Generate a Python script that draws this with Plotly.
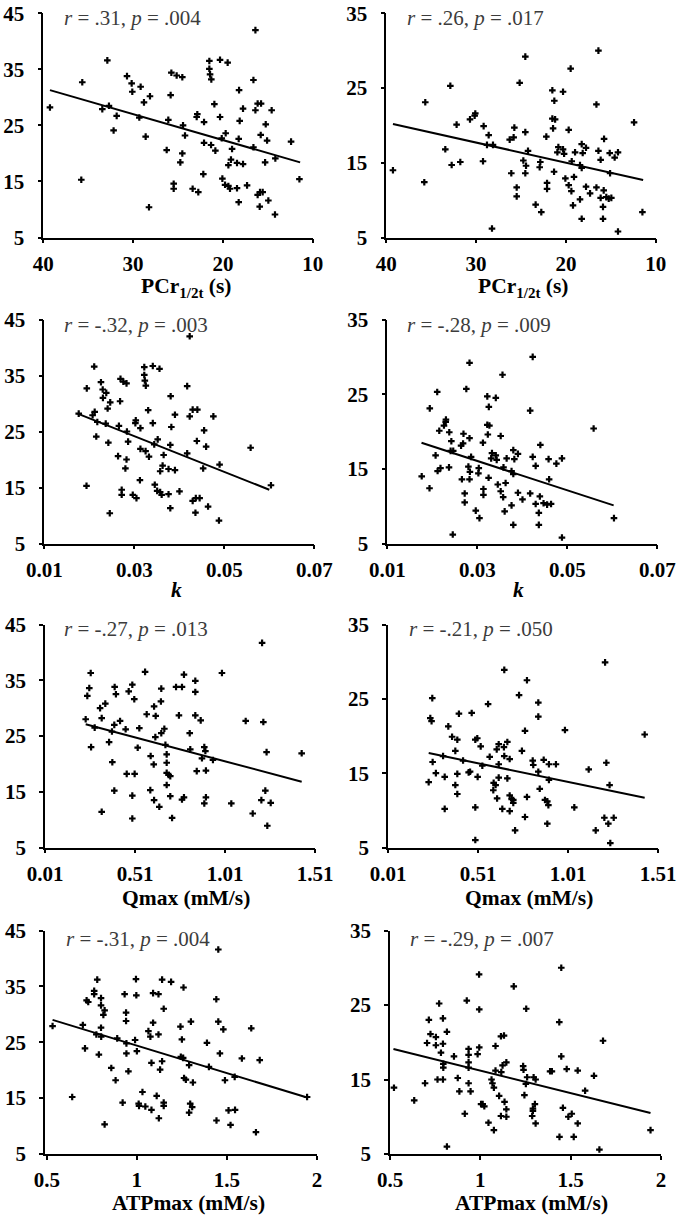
import plotly.graph_objects as go

# ---------------- data ----------------
# Row 1: PCr1/2t (s)
pcr_a = [39.26, 35.66, 35.77, 32.87, 33.43, 32.69, 32.17, 31.83, 30.68, 30.16,
         30.09, 29.16, 28.79, 28.12, 29.31, 28.6, 28.23, 26.26, 26.08, 25.82,
         25.74, 25.15, 24.52, 25.48, 25.48, 24.74, 24.52, 24.44, 24.22, 23.37,
         22.74, 22.85, 22.92, 22.18, 22.1, 22.1, 21.51, 21.51, 21.43, 21.29,
         21.32, 20.95, 20.84, 20.32, 20.32, 20.13, 20.06, 19.76, 19.47, 19.69,
         19.39, 19.21, 19.39, 18.98, 19.1, 18.43, 18.43, 18.2, 18.13, 18.24,
         18.24, 17.76, 17.76, 17.31, 16.6, 16.6, 16.38, 16.38, 16.13, 15.75,
         16.13, 15.87, 15.57, 15.9, 15.79, 15.23, 15.08, 15.3, 14.94, 14.57,
         14.2, 14.16, 12.41, 11.48]
y_left_a = [28.2, 32.7, 15.3, 36.6, 27.9, 28.5, 24.1, 26.7, 33.8, 32.5,
            31.0, 31.9, 29.1, 30.2, 26.4, 23.0, 10.4, 20.6, 26.0, 30.4,
            34.4, 33.9, 33.6, 14.6, 13.7, 18.4, 20.0, 25.0, 23.2, 13.7,
            13.1, 27.0, 26.5, 16.3, 21.9, 25.6, 36.5, 35.1, 34.1, 33.2,
            21.5, 28.8, 20.5, 36.7, 26.5, 22.7, 15.5, 14.4, 36.2, 23.6,
            14.2, 13.7, 17.9, 20.8, 18.9, 18.3, 13.8, 31.3, 25.8, 22.6,
            11.3, 28.0, 18.1, 14.3, 21.1, 33.1, 42.0, 27.7, 28.9, 28.9,
            12.6, 13.1, 13.1, 10.5, 23.3, 25.2, 22.3, 18.4, 11.6, 27.7,
            9.1, 19.1, 22.1, 15.4]

pcr_b = [39.26, 35.66, 35.77, 32.87, 33.43, 32.72, 32.17, 31.76, 30.68, 30.16,
         30.09, 29.16, 29.23, 28.79, 28.6, 28.12, 28.23, 26.08, 26.26, 25.82,
         25.74, 25.15, 24.52, 25.48, 25.48, 24.74, 24.52, 24.44, 24.52, 24.22,
         23.37, 22.74, 22.85, 22.92, 22.18, 22.1, 22.1, 21.51, 21.51, 21.43,
         21.29, 21.32, 21.2, 20.95, 20.84, 20.32, 20.32, 20.2, 20.06, 19.47,
         19.69, 19.69, 19.39, 19.35, 19.21, 18.98, 19.1, 18.43, 18.43, 18.24,
         18.13, 18.24, 18.24, 17.76, 17.76, 17.31, 16.6, 16.38, 16.38, 16.13,
         16.13, 16.6, 15.87, 15.87, 15.79, 15.75, 15.5, 15.23, 14.94, 15.08,
         15.12, 14.57, 14.2, 14.2, 12.41, 11.48]
y_right_b = [14.0, 23.1, 12.4, 25.3, 16.8, 14.7, 20.1, 15.1, 20.8, 21.3,
             21.6, 19.9, 15.2, 17.4, 18.7, 17.4, 6.2, 13.6, 18.1, 18.4,
             19.7, 25.7, 29.2, 11.7, 10.5, 15.3, 19.1, 14.6, 13.6, 16.6,
             9.4, 8.4, 15.1, 14.4, 18.5, 12.3, 11.5, 24.7, 20.9, 19.6,
             23.3, 13.8, 20.8, 16.4, 17.1, 24.5, 16.8, 16.2, 12.9, 27.6,
             19.4, 12.0, 11.2, 15.2, 9.3, 16.4, 13.1, 10.1, 14.7, 17.5,
             16.3, 7.5, 14.3, 17.0, 11.8, 10.9, 22.8, 30.0, 16.6, 15.4,
             10.3, 11.7, 9.1, 7.5, 11.3, 18.2, 10.4, 10.2, 10.3, 13.6,
             16.3, 15.7, 16.4, 5.8, 20.4, 8.4]

# Row 2: k
k_a = [0.01765, 0.01944, 0.01938, 0.02109, 0.02073, 0.02120, 0.02155, 0.02178, 0.02259, 0.02298,
       0.02303, 0.02377, 0.02407, 0.02465, 0.02365, 0.02423, 0.02455, 0.02639, 0.02658, 0.02684,
       0.02693, 0.02756, 0.02827, 0.02720, 0.02720, 0.02802, 0.02827, 0.02836, 0.02862, 0.02966,
       0.03048, 0.03033, 0.03024, 0.03125, 0.03136, 0.03136, 0.03222, 0.03222, 0.03234, 0.03256,
       0.03251, 0.03308, 0.03326, 0.03411, 0.03411, 0.03443, 0.03455, 0.03508, 0.03560, 0.03520,
       0.03575, 0.03608, 0.03575, 0.03652, 0.03629, 0.03761, 0.03761, 0.03808, 0.03823, 0.03800,
       0.03800, 0.03903, 0.03903, 0.04004, 0.04175, 0.04175, 0.04231, 0.04231, 0.04297, 0.04401,
       0.04297, 0.04367, 0.04452, 0.04359, 0.04390, 0.04551, 0.04596, 0.04530, 0.04639, 0.04757,
       0.04881, 0.04895, 0.05585, 0.06037]
k_b = [0.01765, 0.01944, 0.01938, 0.02109, 0.02073, 0.02118, 0.02155, 0.02182, 0.02259, 0.02298,
       0.02303, 0.02377, 0.02371, 0.02407, 0.02423, 0.02465, 0.02455, 0.02658, 0.02639, 0.02684,
       0.02693, 0.02756, 0.02827, 0.02720, 0.02720, 0.02802, 0.02827, 0.02836, 0.02827, 0.02862,
       0.02966, 0.03048, 0.03033, 0.03024, 0.03125, 0.03136, 0.03136, 0.03222, 0.03222, 0.03234,
       0.03256, 0.03251, 0.03269, 0.03308, 0.03326, 0.03411, 0.03411, 0.03431, 0.03455, 0.03560,
       0.03520, 0.03520, 0.03575, 0.03582, 0.03608, 0.03652, 0.03629, 0.03761, 0.03761, 0.03800,
       0.03823, 0.03800, 0.03800, 0.03903, 0.03903, 0.04004, 0.04175, 0.04231, 0.04231, 0.04297,
       0.04297, 0.04175, 0.04367, 0.04367, 0.04390, 0.04401, 0.04472, 0.04551, 0.04639, 0.04596,
       0.04584, 0.04757, 0.04881, 0.04881, 0.05585, 0.06037]

# Row 3: Qmax (mM/s)
qmax_l = [0.236, 0.245, 0.256, 0.264, 0.286, 0.266, 0.316, 0.325, 0.345, 0.325,
          0.366, 0.382, 0.384, 0.395, 0.397, 0.404, 0.395, 0.427, 0.458, 0.464,
          0.475, 0.495, 0.506, 0.508, 0.495, 0.495, 0.525, 0.534, 0.566, 0.575,
          0.597, 0.595, 0.614, 0.616, 0.625, 0.616, 0.623, 0.645, 0.654, 0.656,
          0.656, 0.673, 0.679, 0.686, 0.686, 0.686, 0.697, 0.706, 0.686, 0.706,
          0.716, 0.738, 0.754, 0.771, 0.782, 0.771, 0.782, 0.814, 0.817, 0.845,
          0.845, 0.845, 0.853, 0.875, 0.882, 0.895, 0.901, 0.904, 0.904, 0.895,
          0.943, 0.993, 1.045, 1.125, 1.164, 1.216, 1.223, 1.212, 1.234, 1.241,
          1.264, 1.245, 1.436]
y_left_q = [28.0, 32.2, 33.6, 36.3, 26.5, 23.0, 30.0, 28.2, 30.8, 11.4,
            23.9, 25.8, 20.3, 27.0, 33.8, 32.5, 15.2, 27.7, 26.2, 18.2,
            33.0, 34.2, 31.6, 18.2, 14.3, 10.2, 22.9, 26.4, 36.5, 28.9,
            21.4, 15.3, 19.9, 30.3, 28.6, 13.5, 24.8, 12.3, 31.2, 33.5,
            25.5, 26.3, 23.4, 21.7, 20.2, 18.4, 18.0, 17.8, 16.2, 14.2,
            10.3, 33.8, 28.7, 33.8, 36.0, 13.6, 14.0, 25.5, 22.6, 34.9,
            32.9, 28.7, 18.7, 27.8, 21.0, 23.0, 22.3, 18.8, 14.0, 12.9,
            20.7, 36.3, 12.9, 27.7, 11.1, 41.7, 27.5, 13.5, 15.2, 22.1,
            13.0, 8.9, 21.9]

qmax_r = [0.236, 0.245, 0.252, 0.256, 0.258, 0.276, 0.316, 0.325, 0.325, 0.345,
          0.366, 0.384, 0.384, 0.395, 0.395, 0.395, 0.404, 0.427, 0.458, 0.466,
          0.475, 0.495, 0.506, 0.508, 0.495, 0.495, 0.525, 0.534, 0.566, 0.575,
          0.597, 0.595, 0.608, 0.614, 0.616, 0.625, 0.625, 0.625, 0.645, 0.654,
          0.656, 0.656, 0.673, 0.673, 0.686, 0.686, 0.686, 0.697, 0.706, 0.706,
          0.716, 0.738, 0.754, 0.771, 0.782, 0.771, 0.782, 0.814, 0.817, 0.845,
          0.845, 0.845, 0.853, 0.875, 0.882, 0.895, 0.901, 0.904, 0.904, 0.895,
          0.943, 0.993, 1.045, 1.125, 1.164, 1.216, 1.223, 1.212, 1.234, 1.241,
          1.264, 1.245, 1.436]
y_right_q = [13.8, 22.4, 22.0, 25.1, 16.5, 15.0, 17.3, 14.5, 10.2, 21.3,
             19.9, 18.0, 13.4, 19.5, 14.9, 12.2, 23.0, 16.7, 15.1, 15.2,
             23.1, 19.5, 19.7, 14.5, 10.4, 6.0, 18.6, 16.0, 24.3, 17.2,
             13.7, 12.7, 13.4, 18.2, 11.6, 18.9, 16.2, 14.4, 10.2, 18.5,
             28.9, 17.3, 19.2, 14.3, 16.9, 12.0, 9.9, 11.5, 11.4, 11.0,
             7.3, 25.5, 18.0, 20.7, 27.5, 9.1, 11.8, 16.7, 16.1, 24.5,
             22.6, 15.2, 12.9, 16.8, 11.4, 11.2, 10.7, 16.2, 14.1, 8.2,
             16.2, 20.8, 10.4, 15.5, 7.3, 29.9, 16.4, 9.0, 8.2, 13.4,
             9.0, 5.6, 20.2]

# Row 4: ATPmax (mM/s)
atp_l = [0.532, 0.641, 0.700, 0.712, 0.721, 0.730, 0.763, 0.763, 0.775, 0.780,
         0.789, 0.801, 0.801, 0.801, 0.802, 0.814, 0.821, 0.821, 0.858, 0.882,
         0.891, 0.921, 0.932, 0.940, 0.940, 0.942, 0.942, 0.953, 0.995, 0.997,
         0.990, 1.000, 1.010, 1.012, 1.031, 1.047, 1.081, 1.064, 1.075, 1.081,
         1.090, 1.090, 1.110, 1.120, 1.120, 1.129, 1.122, 1.140, 1.140, 1.149,
         1.149, 1.149, 1.190, 1.242, 1.244, 1.257, 1.250, 1.259, 1.262, 1.272,
         1.290, 1.290, 1.296, 1.300, 1.307, 1.311, 1.389, 1.400, 1.441, 1.442,
         1.452, 1.452, 1.461, 1.480, 1.489, 1.509, 1.520, 1.543, 1.545, 1.583,
         1.635, 1.661, 1.682, 1.945]
y_left_atp = [27.9, 15.2, 28.1, 23.9, 32.5, 32.2, 34.2, 33.6, 26.4, 36.2,
              22.8, 32.9, 31.6, 27.6, 26.0, 29.9, 30.7, 10.3, 20.4, 18.2,
              25.7, 14.2, 33.6, 30.3, 28.8, 24.8, 23.0, 19.8, 36.3, 33.4,
              25.4, 23.4, 14.0, 13.6, 16.1, 13.5, 12.9, 27.0, 26.0, 21.3,
              33.8, 28.5, 15.4, 33.6, 26.4, 20.1, 11.4, 21.6, 36.2, 31.0,
              14.2, 13.6, 35.8, 27.8, 22.4, 22.2, 25.5, 34.8, 18.6, 18.3,
              20.9, 12.4, 14.0, 28.7, 13.4, 17.8, 24.9, 20.6, 32.7, 11.0,
              41.6, 28.7, 23.0, 27.3, 18.2, 12.8, 10.2, 18.8, 12.9, 22.1,
              27.5, 8.9, 21.8, 15.2]

atp_r = [0.522, 0.634, 0.694, 0.705, 0.715, 0.724, 0.754, 0.754, 0.763, 0.772,
         0.782, 0.793, 0.793, 0.795, 0.795, 0.793, 0.815, 0.815, 0.854, 0.875,
         0.884, 0.914, 0.925, 0.935, 0.935, 0.935, 0.935, 0.935, 0.946, 0.985,
         0.993, 0.994, 0.994, 1.004, 1.013, 1.022, 1.045, 1.075, 1.062, 1.067,
         1.075, 1.084, 1.084, 1.104, 1.114, 1.114, 1.116, 1.131, 1.134, 1.123,
         1.144, 1.144, 1.144, 1.185, 1.237, 1.239, 1.244, 1.252, 1.254, 1.259,
         1.287, 1.291, 1.291, 1.295, 1.302, 1.306, 1.306, 1.386, 1.396, 1.437,
         1.438, 1.448, 1.448, 1.457, 1.478, 1.487, 1.506, 1.517, 1.539, 1.539,
         1.580, 1.629, 1.659, 1.679, 1.942]
y_right_atp = [13.9, 12.2, 14.5, 19.9, 23.0, 21.1, 20.7, 19.6, 15.0, 25.2,
               18.6, 23.2, 19.8, 17.1, 16.6, 15.0, 21.4, 6.0, 18.1, 15.2,
               13.4, 10.4, 25.6, 19.1, 18.3, 17.3, 16.6, 14.5, 13.4, 18.4,
               29.1, 24.4, 19.3, 11.7, 11.7, 11.4, 9.2, 8.2, 15.0, 14.5,
               13.9, 16.2, 19.5, 12.8, 10.1, 20.8, 16.0, 20.9, 12.0, 16.9,
               17.3, 11.0, 10.0, 27.5, 16.8, 16.3, 12.9, 14.4, 24.5, 15.3,
               10.1, 11.1, 10.8, 15.3, 11.7, 15.0, 9.1, 16.1, 16.1, 22.7,
               7.3, 30.0, 18.1, 11.2, 16.4, 10.0, 10.4, 7.3, 9.1, 16.2,
               13.5, 15.5, 5.6, 20.2, 8.2]

# Trend lines (end points)
trend_x = [[39.26, 11.4], [39.26, 11.4], [0.0174, 0.060], [0.0176, 0.0603],
           [0.236, 1.436], [0.236, 1.436], [0.532, 1.945], [0.519, 1.942]]
trend_y = [[31.3, 18.4], [20.2, 12.7], [28.2, 14.6], [18.5, 10.1],
           [27.1, 16.8], [17.7, 11.7], [29.0, 15.1], [19.1, 10.5]]

stats = ["<i>r</i> = .31, <i>p</i> = .004", "<i>r</i> = .26, <i>p</i> = .017",
         "<i>r</i> = -.32, <i>p</i> = .003", "<i>r</i> = -.28, <i>p</i> = .009",
         "<i>r</i> = -.27, <i>p</i> = .013", "<i>r</i> = -.21, <i>p</i> = .050",
         "<i>r</i> = -.31, <i>p</i> = .004", "<i>r</i> = -.29, <i>p</i> = .007"]

x_titles = ["PCr<sub>1/2t</sub> (s)", "<i>k</i>", "Qmax (mM/s)", "ATPmax (mM/s)"]
x_ranges = [[40, 10], [40, 10], [0.01, 0.07], [0.01, 0.07],
            [0.01, 1.51], [0.01, 1.51], [0.49, 2], [0.5, 2]]
x_tickvals = [[40, 30, 20, 10], [0.01, 0.03, 0.05, 0.07], [0.01, 0.51, 1.01, 1.51], [0.5, 1, 1.5, 2]]
x_ticktext = [["40", "30", "20", "10"], ["0.01", "0.03", "0.05", "0.07"],
              ["0.01", "0.51", "1.01", "1.51"], ["0.5", "1", "1.5", "2"]]
y_ranges = [[5, 45], [5, 35]]
y_tickvals = [[5, 15, 25, 35, 45], [5, 15, 25, 35]]

series = [(pcr_a, y_left_a), (pcr_b, y_right_b), (k_a, y_left_a), (k_b, y_right_b),
          (qmax_l, y_left_q), (qmax_r, y_right_q), (atp_l, y_left_atp), (atp_r, y_right_atp)]

# ---------------- layout geometry (page pixels) ----------------
W, H = 686, 1223
# (left, right, top, bottom) of each plot area
geo = [(43.3, 312.7, 13.3, 237.5), (386.3, 655.7, 13.3, 237.5),
       (44.3, 314.3, 319.5, 543.5), (387.3, 657.3, 319.5, 543.5),
       (45.0, 315.0, 624.5, 847.5), (388.0, 658.0, 624.5, 847.5),
       (45.0, 317.0, 930.5, 1154.0), (390.0, 661.0, 930.5, 1154.0)]
# x-axis title centres and stat-label anchors
title_xy = [(186.7, 287), (523.0, 287), (176.7, 590), (518.0, 590),
            (186.0, 898), (529.0, 898), (188.3, 1203), (531.3, 1203)]
stat_xy = [(65, 15), (408, 15), (65, 321.7), (408, 321.7),
           (65, 626), (410, 626), (66.7, 936), (411, 936)]

FONT = "'Liberation Serif', 'Times New Roman', Times, serif"
TICK = dict(family=FONT, size=21, color="black", weight="bold")
fig = go.Figure()
layout = dict(width=W, height=H, margin=dict(l=0, r=0, t=0, b=0, autoexpand=False),
              paper_bgcolor="white", plot_bgcolor="white", showlegend=False,
              font=dict(family=FONT, color="black"))
annotations = []

for i, (xs, ys) in enumerate(series):
    r, c = divmod(i, 2)
    n = i + 1
    xl, xr, yt, yb = geo[i]
    xa = "x" if n == 1 else f"x{n}"
    ya = "y" if n == 1 else f"y{n}"
    fig.add_trace(go.Scatter(x=xs, y=ys, mode="markers", xaxis=xa, yaxis=ya,
                             marker=dict(symbol="cross", size=5.5, color="black",
                                         line=dict(width=0)),
                             cliponaxis=False, hoverinfo="x+y"))
    fig.add_trace(go.Scatter(x=trend_x[i], y=trend_y[i], mode="lines", xaxis=xa, yaxis=ya,
                             line=dict(color="black", width=2), hoverinfo="skip"))
    layout[f"xaxis{'' if n == 1 else n}"] = dict(
        domain=[xl / W, xr / W], anchor=ya, range=x_ranges[i], automargin=False,
        tickmode="array", tickvals=x_tickvals[r], ticktext=x_ticktext[r],
        showline=True, linecolor="black", linewidth=1.6, mirror=False,
        ticks="outside", ticklen=4, tickwidth=1.6, tickcolor="black",
        showgrid=False, zeroline=False, ticklabelstandoff=2, tickfont=TICK)
    layout[f"yaxis{'' if n == 1 else n}"] = dict(
        domain=[1 - yb / H, 1 - yt / H], anchor=xa, range=y_ranges[c], automargin=False,
        tickmode="array", tickvals=y_tickvals[c],
        showline=True, linecolor="black", linewidth=1.6,
        ticks="outside", ticklen=4, tickwidth=1.6, tickcolor="black",
        showgrid=False, zeroline=False, ticklabelstandoff=9, tickfont=TICK)
    tx, ty = title_xy[i]
    annotations.append(dict(text=x_titles[r], xref="paper", yref="paper",
                            x=tx / W, y=1 - ty / H, xanchor="center", yanchor="middle",
                            showarrow=False,
                            font=dict(family=FONT, size=21.5, color="black", weight="bold")))
    sx, sy = stat_xy[i]
    annotations.append(dict(text=stats[i], xref="paper", yref="paper",
                            x=(sx - 3) / W, y=1 - (sy + 3) / H,
                            xanchor="left", yanchor="middle", showarrow=False,
                            font=dict(family=FONT, size=21, color="#3c3c3c")))

layout["annotations"] = annotations
fig.update_layout(**layout)
fig.write_html("out.html", config={"displayModeBar": False},
               post_script="document.body.style.margin='0px';")
